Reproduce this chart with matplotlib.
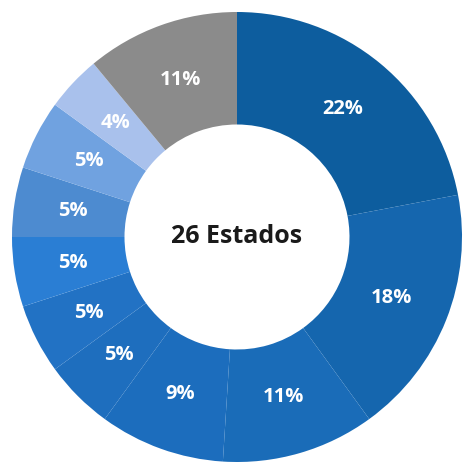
import matplotlib
matplotlib.use("Agg")
import matplotlib.pyplot as plt

values = [22, 18, 11, 9, 5, 5, 5, 5, 5, 4, 11]
labels = ["22%", "18%", "11%", "9%", "5%", "5%", "5%", "5%", "5%", "4%", "11%"]
colors = ["#0d5d9e", "#1566ae", "#1a6cb8", "#1c6dbd", "#1e6ebe",
          "#2272c4", "#2a7ed4", "#4d8bd0", "#70a2e0", "#a9c1ec", "#8b8b8b"]
center_text = "26 Estados"

plt.rcParams['font.family'] = ['Open Sans', 'DejaVu Sans']
fig = plt.figure(figsize=(4.64, 4.62), dpi=100)
ax = fig.add_axes([0, 0, 1, 1])
wedges, texts = ax.pie(values, labels=labels, colors=colors, startangle=90,
                       counterclock=False, radius=1.0, labeldistance=0.74,
                       wedgeprops=dict(width=0.5, linewidth=0),
                       textprops=dict(color="white", fontsize=14.5, fontweight="bold",
                                      ha="center", va="center"))
for t in texts:
    t.set_horizontalalignment("center")
ax.text(0, 0, center_text, ha="center", va="center", fontsize=18,
        fontweight="bold", color="#1a1a1a")
cx, cy, r = 237, 225, 225
ax.set_xlim(-cx / r, (464 - cx) / r)
ax.set_ylim(-cy / r, (462 - cy) / r)
ax.set_aspect("auto")
ax.axis("off")
fig.savefig("out.png", dpi=100)
